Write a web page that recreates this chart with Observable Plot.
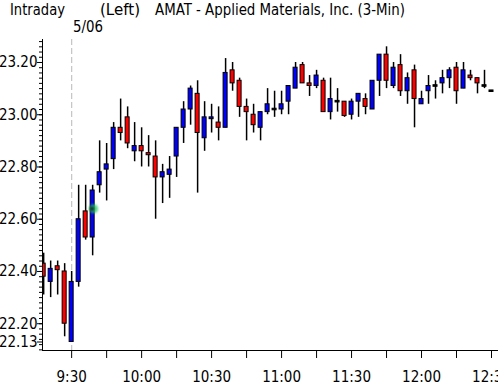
<!DOCTYPE html>
<html><head><meta charset="utf-8">
<script src="https://cdn.jsdelivr.net/npm/d3@7"></script>
<script src="https://cdn.jsdelivr.net/npm/@observablehq/plot@0.6"></script>
<style>
html,body{margin:0;padding:0;background:#fff;overflow:hidden;}
</style></head><body>
<div id="chart"></div>
<script>
const times = ["9:18","9:21","9:24","9:27","9:30","9:33","9:36","9:39","9:42","9:45","9:48","9:51","9:54","9:57",
  "10:00","10:03","10:06","10:09","10:12","10:15","10:18","10:21","10:24","10:27","10:30","10:33","10:36","10:39","10:42","10:45","10:48","10:51","10:54","10:57",
  "11:00","11:03","11:06","11:09","11:12","11:15","11:18","11:21","11:24","11:27","11:30","11:33","11:36","11:39","11:42","11:45","11:48","11:51","11:54","11:57",
  "12:00","12:03","12:06","12:09","12:12","12:15","12:18","12:21","12:24","12:27","12:30"];
const opens = [22.43,22.36,22.42,22.40,22.13,22.36,22.63,22.53,22.73,22.79,22.83,22.95,22.99,22.86,
  22.88,22.853,22.84,22.76,22.77,22.84,22.95,23.02,23.08,22.91,22.983,22.97,22.95,23.17,23.13,23.03,23.00,22.95,23.01,23.02,
  23.02,23.05,23.10,23.19,23.12,23.11,23.13,23.01,23.05,23.05,23.00,23.05,23.06,23.02,23.13,23.23,23.11,23.19,23.09,23.17,
  23.04,23.09,23.11,23.12,23.14,23.18,23.10,23.15,23.14,23.11,23.09];
const highs = [22.47,22.44,22.44,22.43,22.40,22.73,22.73,22.73,22.90,22.89,22.97,23.06,23.03,22.97,
  22.95,22.92,22.90,22.81,22.84,22.95,23.05,23.11,23.13,23.05,23.04,23.03,23.215,23.20,23.14,23.06,23.04,23.01,23.10,23.09,
  23.09,23.11,23.20,23.20,23.15,23.17,23.14,23.14,23.10,23.05,23.06,23.08,23.08,23.13,23.23,23.26,23.20,23.23,23.16,23.19,
  23.09,23.15,23.13,23.17,23.18,23.20,23.20,23.17,23.14,23.17,23.09];
const lows = [22.31,22.30,22.31,22.15,22.13,22.34,22.52,22.46,22.70,22.67,22.79,22.90,22.87,22.82,
  22.80,22.80,22.60,22.66,22.68,22.76,22.89,22.96,22.70,22.86,22.93,22.90,22.95,23.09,22.99,22.90,22.93,22.90,23.00,22.99,
  23.00,23.00,23.10,23.12,23.07,23.10,23.01,22.98,23.01,22.99,22.98,22.99,23.00,23.02,23.07,23.10,23.10,23.07,23.04,22.95,
  23.04,23.04,23.06,23.08,23.10,23.04,23.10,23.13,23.08,23.10,23.09];
const closes = [22.38,22.41,22.405,22.20,22.36,22.60,22.53,22.71,22.78,22.81,22.95,22.93,22.89,22.88,
  22.86,22.845,22.76,22.78,22.79,22.95,23.02,23.10,22.93,22.99,22.99,22.95,23.16,23.12,23.03,23.01,22.96,23.01,23.04,23.02,
  23.04,23.11,23.18,23.12,23.11,23.15,23.01,23.06,23.05,22.995,23.05,23.08,23.03,23.13,23.23,23.13,23.18,23.09,23.14,23.06,
  23.06,23.11,23.11,23.14,23.17,23.09,23.17,23.14,23.12,23.11,23.09];

const yLabelTicks = [22.13, 22.20, 22.40, 22.60, 22.80, 23.00, 23.20];
const xLabelTicks = ["9:30","10:00","10:30","11:00","11:30","12:00","12:30"];
const xMinorTicks = ["9:30","9:45","10:00","10:15","10:30","10:45","11:00","11:15","11:30","11:45","12:00","12:15","12:30"];
const sessionStart = "9:30";
const dateLabel = "5/06";
const titleParts = ["Intraday", "(Left)", "AMAT - Applied Materials, Inc. (3-Min)"];
const markerTime = "9:39";
const markerPrice = 22.64;

const toMin = s => { const [h, m] = s.split(":").map(Number); return h * 60 + m; };
const fmt = m => `${Math.floor(m / 60)}:${String(m % 60).padStart(2, "0")}`;

const bars = times.map((t, i) => ({t: toMin(t), open: opens[i], high: highs[i], low: lows[i], close: closes[i]}));
const xDomain = [557.5, 753];
const yDomain = [22.0975, 23.288];
const yMinor = d3.range(2210, 2330, 2).map(v => v / 100);
const half = 0.86;
const flat = d => Math.abs(d.close - d.open) < 0.004;
const bodyLo = d => flat(d) ? (d.open + d.close) / 2 - 0.003 : Math.min(d.open, d.close);
const bodyHi = d => flat(d) ? (d.open + d.close) / 2 + 0.003 : Math.max(d.open, d.close);
const bodyColor = d => flat(d) ? "black" : d.close > d.open ? "#0000ff" : "#ff0000";
const FONT = '"DejaVu Sans Condensed", "DejaVu Sans", sans-serif';

const svg = Plot.plot({
  width: 498, height: 386,
  marginLeft: 42, marginRight: 0, marginTop: 39, marginBottom: 36,
  x: {type: "linear", domain: xDomain, label: null},
  y: {domain: yDomain, label: null},
  color: {type: "identity"},
  style: {fontFamily: FONT, fontSize: "15px", fontStretch: "condensed", background: "white", color: "black"},
  marks: [
    Plot.ruleX([toMin(sessionStart)], {stroke: "#c4c4c4", strokeWidth: 1.2, strokeDasharray: "6,3"}),
    Plot.ruleX(bars, {x: "t", y1: "low", y2: "high", stroke: "black", strokeWidth: 1.5, clip: true}),
    Plot.rect(bars, {x1: d => d.t - half, x2: d => d.t + half, y1: bodyLo, y2: bodyHi, fill: bodyColor, stroke: "black", strokeWidth: 1, clip: true}),
    Plot.dot([{t: toMin(markerTime) + 0.4, p: markerPrice}], {x: "t", y: "p", r: 4.5, fill: "#22cc66", fillOpacity: 0.75}),
    Plot.dot([{t: toMin(markerTime) - 0.3, p: markerPrice}], {x: "t", y: "p", r: 2.2, fill: "#113322"}),
    Plot.ruleX([xDomain[0]], {stroke: "black", strokeWidth: 1}),
    Plot.ruleY([yDomain[0]], {stroke: "black", strokeWidth: 1}),
    Plot.axisY({ticks: yMinor, tickSize: 3, tickFormat: () => "", label: null}),
    Plot.axisY({ticks: yLabelTicks, tickSize: 5, tickPadding: 0, tickFormat: d => d.toFixed(2), label: null}),
    Plot.axisX({ticks: xMinorTicks.map(toMin), tickSize: 8, tickFormat: () => "", label: null}),
    Plot.axisX({ticks: xLabelTicks.map(toMin), tickSize: 0, tickPadding: 21, tickFormat: fmt, label: null})
  ]
});
document.getElementById("chart").appendChild(svg);

const s = d3.select(svg);
s.selectAll("circle").style("filter", "blur(0.8px)");
const titles = [
  {text: titleParts[0], x: 10, y: 15, len: 55},
  {text: titleParts[1], x: 100, y: 15, len: 40},
  {text: titleParts[2], x: 155, y: 15, len: 250},
  {text: dateLabel, x: 73, y: 32, len: 30}
];
for (const t of titles) {
  s.append("text").attr("x", t.x).attr("y", t.y)
    .attr("text-anchor", "start")
    .attr("textLength", t.len).attr("lengthAdjust", "spacingAndGlyphs")
    .attr("fill", "black").style("font-family", FONT).style("font-size", "15px")
    .text(t.text);
}
</script>
</body></html>
